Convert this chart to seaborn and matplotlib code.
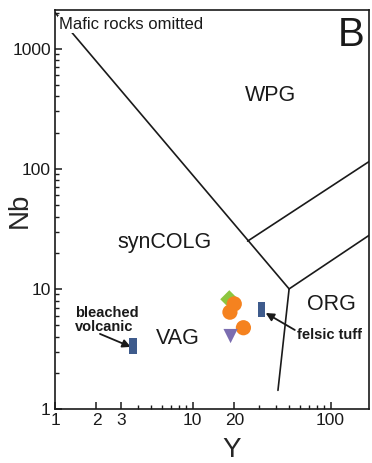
import numpy as np
import pandas as pd
import matplotlib
matplotlib.use("Agg")
import matplotlib.pyplot as plt
from matplotlib.path import Path
from matplotlib.ticker import FixedLocator, NullFormatter, FixedFormatter
import seaborn as sns

sns.set_style("ticks")
plt.rcParams['font.family'] = ['Liberation Sans', 'DejaVu Sans']

# --- data -------------------------------------------------------------
# Discrimination boundaries (Y, Nb)
bound_wpg_y = [1, 50]
bound_wpg_nb = [2000, 10]
bound_vag_org_y = [41.5, 50]
bound_vag_org_nb = [1.43, 10]
bound_org_y = [50, 1000]
bound_org_nb = [10, 100]
bound_upper_y = [25, 1000]
bound_upper_nb = [25, 400]

# Samples
blue_y = [3.7, 31.6]
blue_nb = [3.35, 6.75]
green_y = [18.4]
green_nb = [8.2]
orange_y = [20.0, 18.6, 23.3]
orange_nb = [7.5, 6.4, 4.75]
purple_y = [18.8]
purple_nb = [4.05]

x_major = [1, 2, 3, 10, 20, 100]
x_labels = ["1", "2", "3", "10", "20", "100"]
x_minor = [4, 5, 6, 7, 8, 9, 30, 40, 50, 60, 70, 80, 90]
y_major = [1, 10, 100, 1000]
y_labels = ["1", "10", "100", "1000"]
y_minor = [m * d for d in (1, 10, 100, 1000) for m in range(2, 10)]

# --- figure -----------------------------------------------------------
fig = plt.figure(figsize=(3.72, 4.63), dpi=100)
ax = fig.add_axes([55 / 372, 1 - 409 / 463, (369 - 55) / 372, (409 - 10) / 463])
ax.set_xscale("log")
ax.set_yscale("log")
ax.set_xlim(1, 190)
ax.set_ylim(1, 2100)

lc = "#1a1a1a"
for xs, ys in [(bound_wpg_y, bound_wpg_nb), (bound_vag_org_y, bound_vag_org_nb),
               (bound_org_y, bound_org_nb), (bound_upper_y, bound_upper_nb)]:
    sns.lineplot(x=xs, y=ys, sort=False, estimator=None, color=lc, lw=1.2, ax=ax, zorder=2)

rect = Path([(-0.5, -1), (0.5, -1), (0.5, 1), (-0.5, 1), (-0.5, -1)],
            [Path.MOVETO, Path.LINETO, Path.LINETO, Path.LINETO, Path.CLOSEPOLY])

sns.scatterplot(x=green_y, y=green_nb, marker="D", s=85, color="#8dc63f",
                edgecolor="none", linewidth=0, ax=ax, zorder=3)
sns.scatterplot(x=orange_y, y=orange_nb, marker="o", s=120, color="#f5821f",
                edgecolor="none", linewidth=0, ax=ax, zorder=4)
sns.scatterplot(x=purple_y, y=purple_nb, marker="v", s=105, color="#7b6db0",
                edgecolor="none", linewidth=0, ax=ax, zorder=4)
sns.scatterplot(x=blue_y, y=blue_nb, marker=rect, s=120, color="#3e5b8c",
                edgecolor="none", linewidth=0, ax=ax, zorder=4)

# ticks
ax.xaxis.set_major_locator(FixedLocator(x_major))
ax.xaxis.set_major_formatter(FixedFormatter(x_labels))
ax.xaxis.set_minor_locator(FixedLocator(x_minor))
ax.xaxis.set_minor_formatter(NullFormatter())
ax.yaxis.set_major_locator(FixedLocator(y_major))
ax.yaxis.set_major_formatter(FixedFormatter(y_labels))
ax.yaxis.set_minor_locator(FixedLocator(y_minor))
ax.yaxis.set_minor_formatter(NullFormatter())
ax.tick_params(which="major", direction="in", length=5, width=1.1, labelsize=12.5,
               pad=3, colors="#1a1a1a")
ax.tick_params(which="minor", direction="in", length=3, width=1.0, colors="#1a1a1a")
for sp in ax.spines.values():
    sp.set_linewidth(1.2)
    sp.set_color("#1a1a1a")

ax.set_xlabel("Y", fontsize=20)
ax.set_ylabel("Nb", fontsize=20)
ax.xaxis.set_label_coords((232 - 55) / 314, -(450 - 409) / 399)
ax.yaxis.set_label_coords(-(55 - 20) / 314, (409 - 210) / 399)
ax.xaxis.label.set_va("center")
ax.yaxis.label.set_va("center")

# text labels
ax.text(0.013, 0.963, "Mafic rocks omitted", transform=ax.transAxes, fontsize=12,
        ha="left", va="center", color="#1a1a1a",
        bbox=dict(facecolor="white", edgecolor="none", pad=0.8), zorder=5)
ax.text(0.985, 0.985, "B", transform=ax.transAxes, fontsize=29, ha="right", va="top",
        color="#1a1a1a")
ax.text(36.7, 406, "WPG", fontsize=15.5, ha="center", va="center", color="#1a1a1a")
ax.text(6.2, 24.2, "synCOLG", fontsize=15.5, ha="center", va="center", color="#1a1a1a")
ax.text(7.8, 3.9, "VAG", fontsize=15.5, ha="center", va="center", color="#1a1a1a")
ax.text(101, 7.4, "ORG", fontsize=15.5, ha="center", va="center", color="#1a1a1a")

ax.text(1.4, 5.5, "bleached\nvolcanic", fontsize=10.5, fontweight="bold",
        ha="left", va="center", multialignment="left", color="#1a1a1a",
        linespacing=1.05)
ax.annotate("", xy=(3.55, 3.29), xytext=(2.12, 4.22),
            arrowprops=dict(arrowstyle="-|>", color="#1a1a1a", lw=1.3,
                            shrinkA=0, shrinkB=0, mutation_scale=12))
ax.text(56.7, 4.14, "felsic tuff", fontsize=10.5, fontweight="bold",
        ha="left", va="center", color="#1a1a1a")
ax.annotate("", xy=(33.8, 6.3), xytext=(55, 4.55),
            arrowprops=dict(arrowstyle="-|>", color="#1a1a1a", lw=1.3,
                            shrinkA=0, shrinkB=0, mutation_scale=12))

fig.savefig("out.png", dpi=100)
